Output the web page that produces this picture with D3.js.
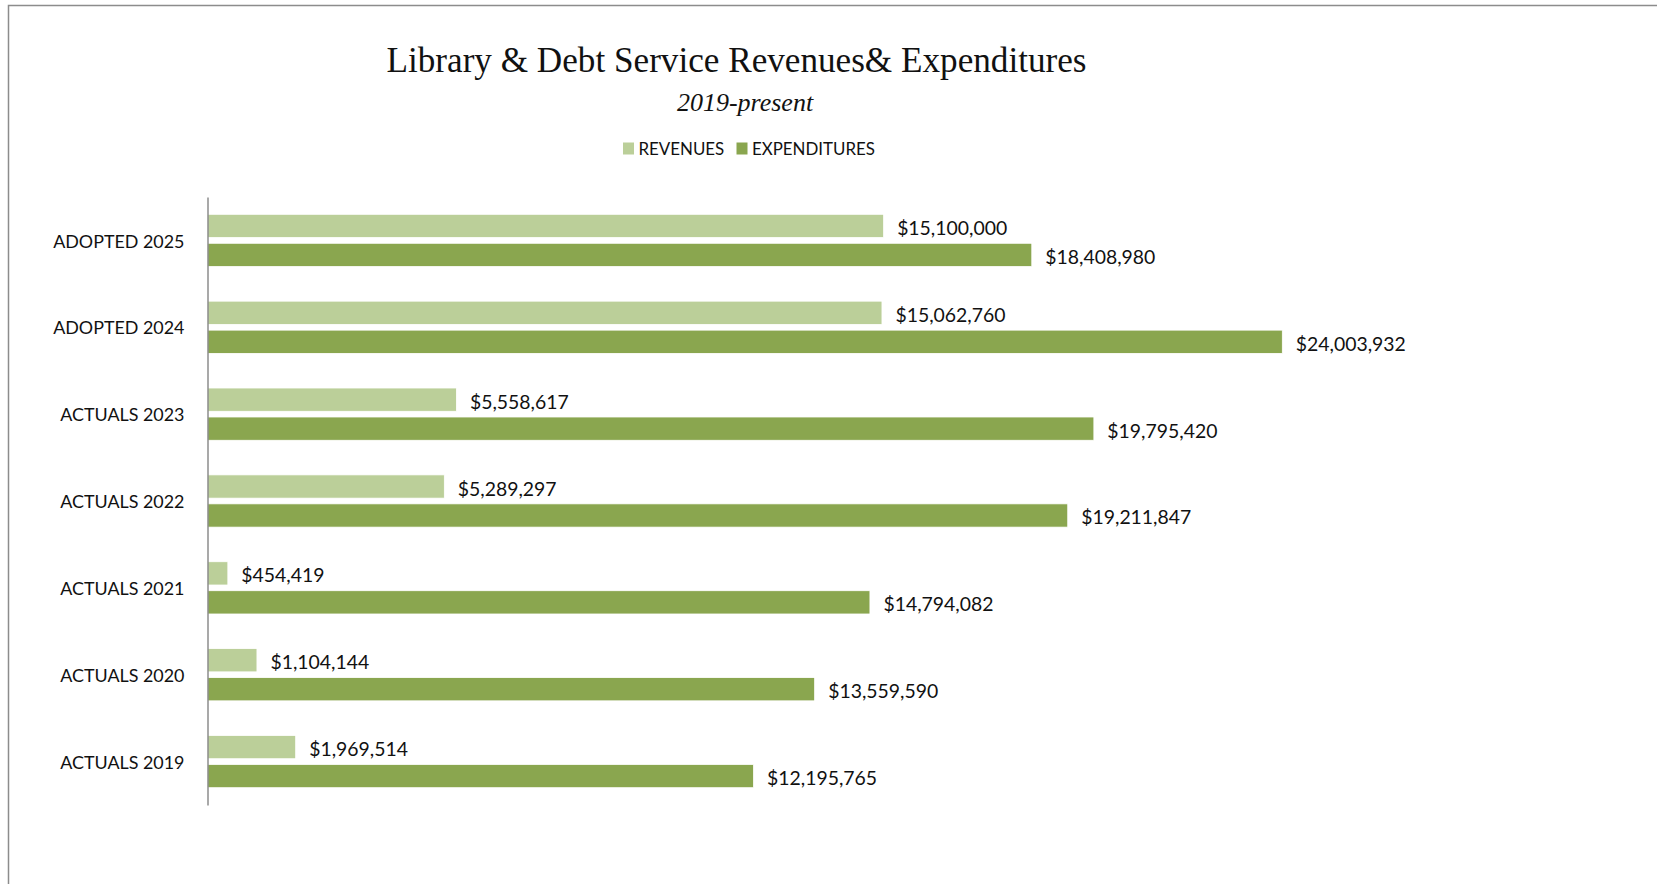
<!DOCTYPE html>
<html>
<head>
<meta charset="utf-8">
<script src="https://cdn.jsdelivr.net/npm/d3@7/dist/d3.min.js"></script>
<style>
  html, body { margin: 0; padding: 0; background: #ffffff; }
  svg { display: block; }
</style>
</head>
<body>
<svg id="chart" width="1657" height="884"></svg>
<script>
// Fiscal periods, top to bottom
const categories = ["ADOPTED 2025", "ADOPTED 2024", "ACTUALS 2023", "ACTUALS 2022", "ACTUALS 2021", "ACTUALS 2020", "ACTUALS 2019"];
const seriesNames = ["REVENUES", "EXPENDITURES"];
const revenues = [15100000, 15062760, 5558617, 5289297, 454419, 1104144, 1969514];
const expenditures = [18408980, 24003932, 19795420, 19211847, 14794082, 13559590, 12195765];
const seriesColors = ["#bbcf99", "#8aa64f"];

const titleText = "Library & Debt Service Revenues& Expenditures";
const subtitleText = "2019-present";

const svg = d3.select("#chart");
const W = 1657, H = 884;

// frame (top and left edges visible)
svg.append("path")
  .attr("d", `M8.5,${H} L8.5,5.5 L${W},5.5`)
  .attr("fill", "none")
  .attr("stroke", "#8c8c8c")
  .attr("stroke-width", 1.5);

// title
svg.append("text")
  .attr("x", 736.5).attr("y", 71.5)
  .attr("text-anchor", "middle")
  .attr("font-family", "'Liberation Serif', 'DejaVu Serif', serif")
  .attr("font-size", 35)
  .attr("fill", "#111")
  .attr("textLength", 700)
  .attr("lengthAdjust", "spacingAndGlyphs")
  .text(titleText);

svg.append("text")
  .attr("x", 745).attr("y", 111)
  .attr("text-anchor", "middle")
  .attr("font-family", "'Liberation Serif', 'DejaVu Serif', serif")
  .attr("font-style", "italic")
  .attr("font-size", 26)
  .attr("fill", "#111")
  .text(subtitleText);

// legend
const legendItems = [
  { name: seriesNames[0], color: seriesColors[0], x: 623 },
  { name: seriesNames[1], color: seriesColors[1], x: 736.5 }
];
const legend = svg.append("g");
legendItems.forEach(d => {
  legend.append("rect")
    .attr("x", d.x).attr("y", 142.5)
    .attr("width", 11).attr("height", 12)
    .attr("fill", d.color);
  legend.append("text")
    .attr("x", d.x + 15.5).attr("y", 155)
    .attr("font-family", "Lato, 'Open Sans', sans-serif")
    .attr("font-size", 16.9)
    .attr("fill", "#111")
    .text(d.name);
});

// scales
const x = d3.scaleLinear().domain([0, 30000000]).range([207.5, 1550.8]);
const y = d3.scaleBand().domain(categories).range([197, 805]).paddingInner(0).paddingOuter(0);
const ySub = d3.scaleBand().domain(seriesNames).range([0, y.bandwidth()])
  .paddingInner(0.1966).paddingOuter(0.597);

const rows = categories.map((c, i) => ({
  category: c,
  values: [
    { series: seriesNames[0], value: revenues[i], color: seriesColors[0] },
    { series: seriesNames[1], value: expenditures[i], color: seriesColors[1] }
  ]
}));

const fmt = d => "$" + d3.format(",")(d);

const groups = svg.append("g").selectAll("g")
  .data(rows)
  .join("g")
  .attr("transform", d => `translate(0,${y(d.category)})`);

groups.selectAll("rect")
  .data(d => d.values)
  .join("rect")
  .attr("x", x(0))
  .attr("y", d => ySub(d.series))
  .attr("width", d => x(d.value) - x(0))
  .attr("height", ySub.bandwidth())
  .attr("fill", d => d.color)
  .attr("stroke", "#ffffff")
  .attr("stroke-width", 0.8);

groups.selectAll("text.value")
  .data(d => d.values)
  .join("text")
  .attr("class", "value")
  .attr("x", d => x(d.value) + 13.5)
  .attr("y", d => ySub(d.series) + ySub.bandwidth() / 2 + 1.5)
  .attr("dominant-baseline", "central")
  .attr("font-family", "Lato, 'Open Sans', sans-serif")
  .attr("font-size", 19.4)
  .attr("fill", "#111")
  .text(d => fmt(d.value));

// category axis
const yAxis = d3.axisLeft(y).tickSize(0).tickPadding(23);
const axisG = svg.append("g")
  .attr("transform", `translate(${x(0)},0)`)
  .call(yAxis);
axisG.select(".domain")
  .attr("stroke", "#8c8c8c")
  .attr("stroke-width", 1.5);
axisG.selectAll(".tick text")
  .attr("font-family", "Lato, 'Open Sans', sans-serif")
  .attr("font-size", 17.9)
  .attr("fill", "#111")
  .attr("dy", "0.4em");
</script>
</body>
</html>
